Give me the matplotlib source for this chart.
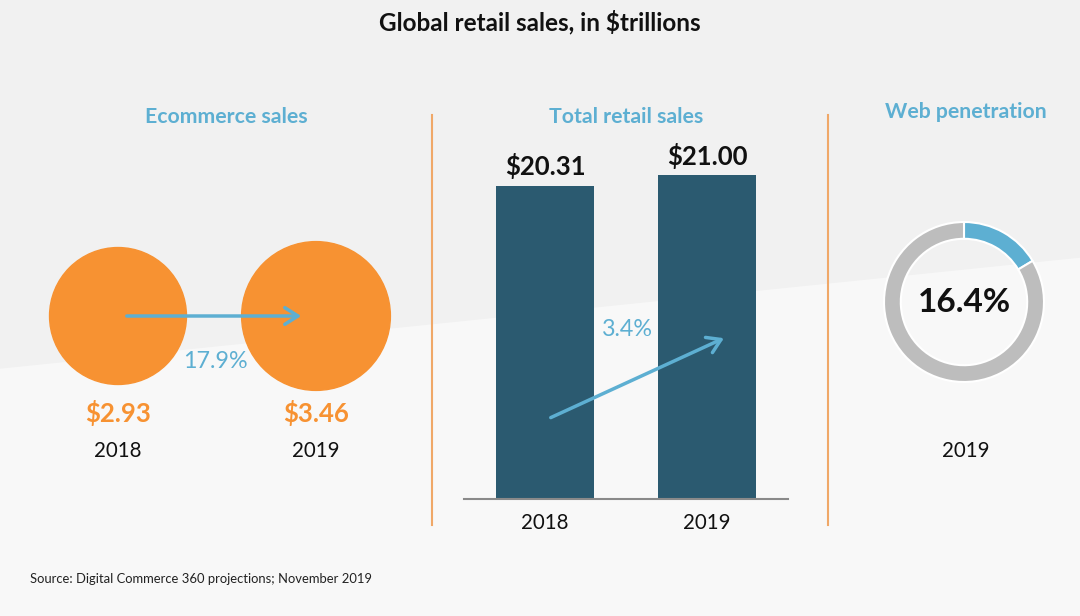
import numpy as np
import matplotlib
matplotlib.use("Agg")
import matplotlib.pyplot as plt
from matplotlib.patches import Circle, Polygon

plt.rcParams['font.family'] = ['Lato', 'DejaVu Sans']

# data
years = ['2018', '2019']
ecommerce = [2.93, 3.46]
ecommerce_growth = '17.9%'
total_retail = [20.31, 21.00]
retail_growth = '3.4%'
web_share = 16.4
web_year = '2019'

BLUE = '#5dafd2'
ORANGE = '#f79232'
NAVY = '#2b5a70'
GREY = '#bdbdbd'
LINE_ORANGE = '#f0a868'
ARROW = '->,head_length=0.95,head_width=0.6'

W, H = 1080, 616
fig = plt.figure(figsize=(W / 100, H / 100), dpi=100)

# background axes in pixel coordinates
bg = fig.add_axes([0, 0, 1, 1])
bg.set_xlim(0, W)
bg.set_ylim(H, 0)
bg.axis('off')
bg.add_patch(Polygon([(0, 0), (W, 0), (W, H), (0, H)], closed=True, color='#f8f8f8', zorder=0))
bg.add_patch(Polygon([(0, 0), (W, 0), (W, 257), (0, 368)], closed=True, color='#f1f1f1', zorder=0))

bg.text(540, 22, 'Global retail sales, in $trillions', ha='center', va='center',
        fontsize=17.5, fontweight='bold', color='#111111')

# separators
for xs in (432, 828):
    bg.plot([xs, xs], [115, 525], color=LINE_ORANGE, lw=1.5, zorder=1)

# --- Ecommerce panel: circle area proportional to value
bg.text(226, 117, 'Ecommerce sales', ha='center', va='center', fontsize=15.3,
        fontweight='bold', color=BLUE)
centers = [118, 316]
for cx, v, yr in zip(centers, ecommerce, years):
    r = 40 * np.sqrt(v)
    bg.add_patch(Circle((cx, 316), r, color=ORANGE, zorder=2))
    bg.text(cx, 413, f'${v:.2f}', ha='center', va='center', fontsize=18.5,
            fontweight='bold', color=ORANGE)
    bg.text(cx, 451, yr, ha='center', va='center', fontsize=14.8, color='#111111')
bg.annotate('', xy=(304, 316), xytext=(124, 316),
            arrowprops=dict(arrowstyle=ARROW, color=BLUE, lw=2.5), zorder=3)
bg.text(215, 362, ecommerce_growth, ha='center', va='center', fontsize=16.8, color=BLUE)

# --- Total retail bars
bg.text(626, 117, 'Total retail sales', ha='center', va='center', fontsize=15.3,
        fontweight='bold', color=BLUE)
ymax = 24
ppu = 15.43
bax = fig.add_axes([464 / W, (H - 499) / H, 324 / W, ymax * ppu / H])
bax.set_facecolor('none')
x = np.arange(len(years))
bax.bar(x, total_retail, width=0.6, color=NAVY, zorder=2)
bax.set_xlim(-0.5, 1.5)
bax.set_ylim(0, ymax)
for s in ('top', 'left', 'right'):
    bax.spines[s].set_visible(False)
bax.spines['bottom'].set_color('#8a8a8a')
bax.spines['bottom'].set_linewidth(1.5)
bax.set_yticks([])
bax.set_xticks(x)
bax.set_xticklabels(years, fontsize=14.8, color='#111111')
bax.tick_params(axis='x', length=0, pad=10)
for xi, v in zip(x, total_retail):
    bax.text(xi, v + 0.4, f'${v:.2f}', ha='center', va='bottom', fontsize=18.5,
             fontweight='bold', color='#111111')
bax.annotate('', xy=(1.12, 10.5), xytext=(0.02, 5.2),
             arrowprops=dict(arrowstyle=ARROW, color=BLUE, lw=2.5), zorder=3)
bax.text(0.51, 11.0, retail_growth, ha='center', va='center', fontsize=16.8, color=BLUE)

# --- Web penetration donut
bg.text(966, 112, 'Web penetration', ha='center', va='center', fontsize=15.3,
        fontweight='bold', color=BLUE)
R = 80
dax = fig.add_axes([(964 - R) / W, (H - 302 - R) / H, 2 * R / W, 2 * R / H])
dax.pie([web_share, 100 - web_share], colors=[BLUE, GREY], startangle=90,
        counterclock=False, radius=1,
        wedgeprops=dict(width=0.21, edgecolor='white', linewidth=1.5))
dax.set_xlim(-1, 1)
dax.set_ylim(-1, 1)
dax.text(0, 0, f'{web_share:.1f}%', ha='center', va='center', fontsize=24,
         fontweight='bold', color='#111111')
bg.text(966, 451, web_year, ha='center', va='center', fontsize=14.8, color='#111111')

bg.text(30, 579, 'Source: Digital Commerce 360 projections; November 2019', ha='left',
        va='center', fontsize=9.4, color='#222222')

fig.savefig('out.png', dpi=100)
